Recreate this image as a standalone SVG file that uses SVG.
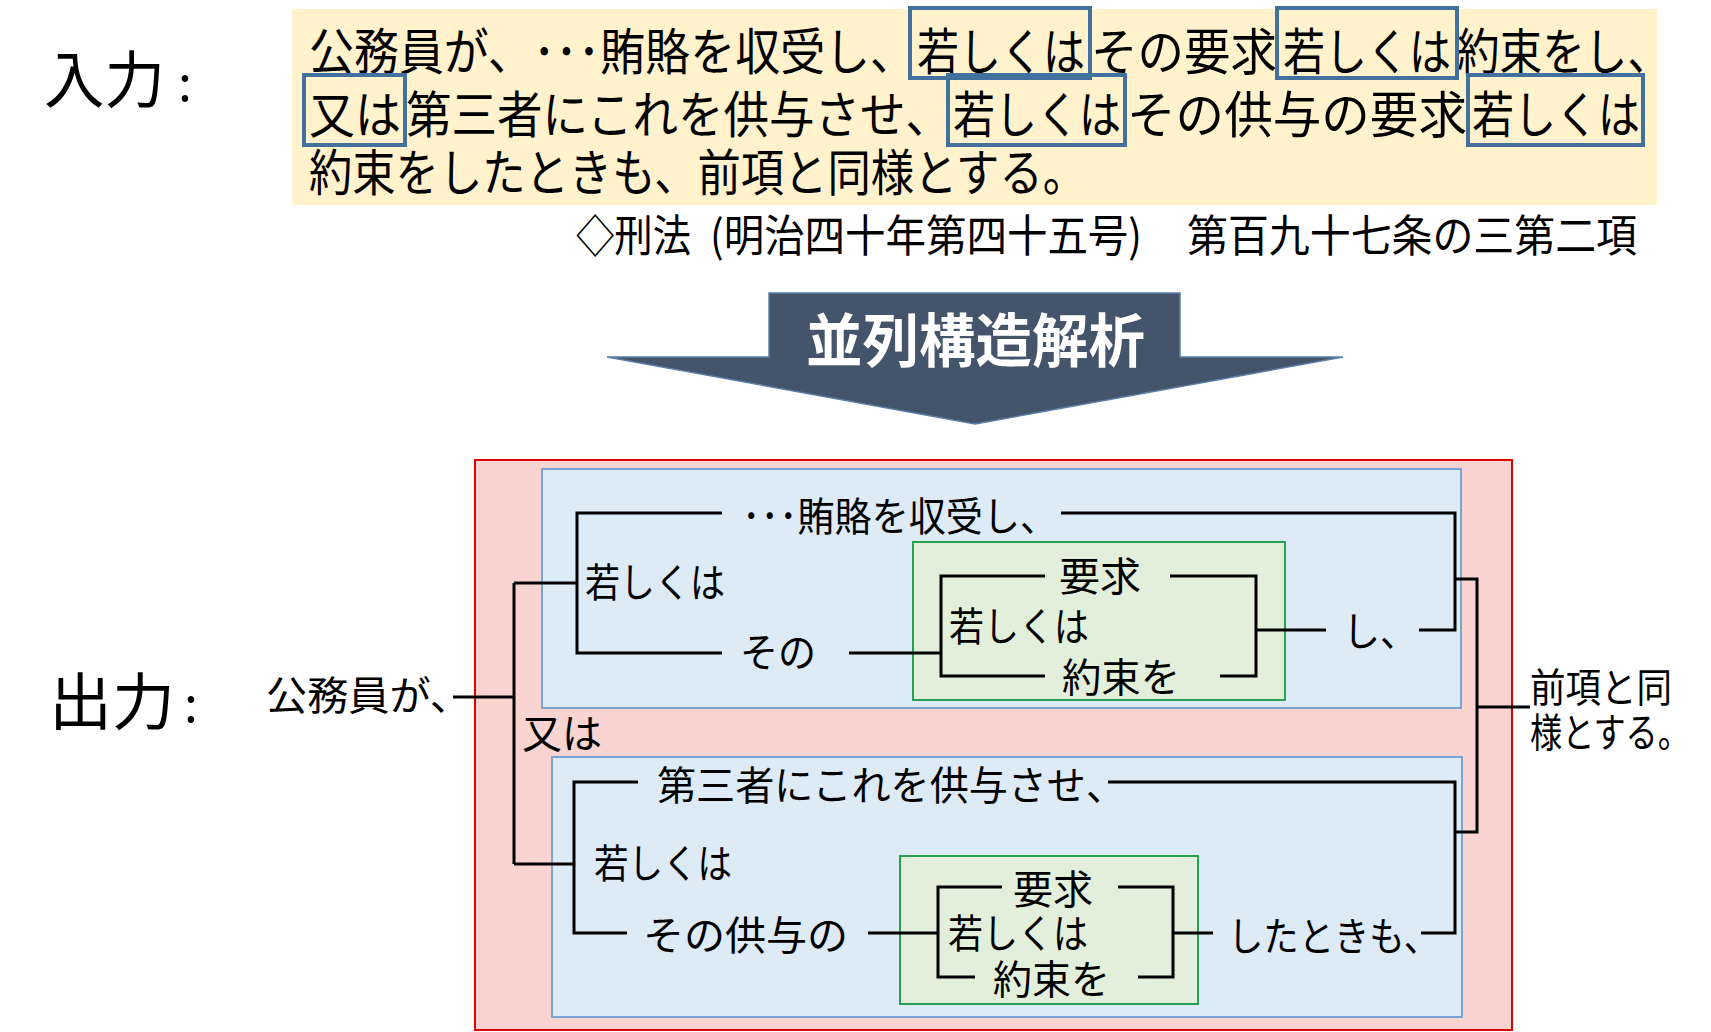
<svg xmlns="http://www.w3.org/2000/svg" width="1711" height="1032" viewBox="0 0 1711 1032">
<style>
  text { font-family: "Noto Sans CJK JP", "Noto Sans CJK SC", sans-serif; fill: #000; }
  .big { font-size: 62px; }
  .in { font-size: 50px; }
  .cite { font-size: 44px; }
  .d { font-size: 40px; }
  .ttl { font-size: 58px; font-weight: 700; fill: #fff; }
  .hl { fill: none; stroke: #41719C; stroke-width: 4; }
  .ln { fill: none; stroke: #000; stroke-width: 3; }
  .red { fill: #F9D4D1; stroke: #E00000; stroke-width: 2; }
  .blue { fill: #DDEBF7; stroke: #7BA3D4; stroke-width: 2; }
  .green { fill: #E2EFDA; stroke: #27A152; stroke-width: 2; }
</style>

<g id="label-input">
  <text class="big" x="44" y="103" textLength="121" lengthAdjust="spacingAndGlyphs">入力</text>
  <text class="in" x="178" y="101">:</text>
</g>

<g id="input-text">
  <rect x="292" y="9" width="1365" height="196" fill="#FFF2CC"/>
  <text class="in" x="309" y="70" textLength="606" lengthAdjust="spacingAndGlyphs">公務員が、･･･賄賂を収受し、</text>
  <text class="in" x="917" y="70" textLength="168" lengthAdjust="spacingAndGlyphs">若しくは</text>
  <text class="in" x="1091" y="70" textLength="186" lengthAdjust="spacingAndGlyphs">その要求</text>
  <text class="in" x="1283" y="70" textLength="168" lengthAdjust="spacingAndGlyphs">若しくは</text>
  <text class="in" x="1457" y="70" textLength="213" lengthAdjust="spacingAndGlyphs">約束をし、</text>
  <text class="in" x="309" y="133" textLength="92" lengthAdjust="spacingAndGlyphs">又は</text>
  <text class="in" x="406" y="133" textLength="545" lengthAdjust="spacingAndGlyphs">第三者にこれを供与させ、</text>
  <text class="in" x="953" y="133" textLength="168" lengthAdjust="spacingAndGlyphs">若しくは</text>
  <text class="in" x="1127" y="133" textLength="340" lengthAdjust="spacingAndGlyphs">その供与の要求</text>
  <text class="in" x="1472" y="133" textLength="168" lengthAdjust="spacingAndGlyphs">若しくは</text>
  <text class="in" x="309" y="191" textLength="777" lengthAdjust="spacingAndGlyphs">約束をしたときも、前項と同様とする。</text>
  <rect class="hl" x="910" y="8" width="180" height="70"/>
  <rect class="hl" x="1277" y="8" width="180" height="70"/>
  <rect class="hl" x="304" y="75" width="101" height="70"/>
  <rect class="hl" x="948" y="75" width="177" height="70"/>
  <rect class="hl" x="1468" y="75" width="175" height="70"/>
</g>

<g id="citation">
  <text class="cite" x="576" y="252" textLength="115" lengthAdjust="spacingAndGlyphs">◇刑法</text>
  <text class="cite" x="710" y="252" textLength="432" lengthAdjust="spacingAndGlyphs">(明治四十年第四十五号)</text>
  <text class="cite" x="1187" y="252" textLength="450" lengthAdjust="spacingAndGlyphs">第百九十七条の三第二項</text>
</g>

<g id="arrow">
  <polygon points="769,293 1180,293 1180,357 1343,357 975,424 607,357 769,357" fill="#44546A" stroke="#5B7DA8" stroke-width="1.5"/>
  <text class="ttl" x="806" y="362" textLength="339" lengthAdjust="spacingAndGlyphs">並列構造解析</text>
</g>

<g id="label-output">
  <text class="big" x="49" y="725" textLength="126" lengthAdjust="spacingAndGlyphs">出力</text>
  <text class="in" x="184" y="722">:</text>
</g>

<g id="output-frame">
  <rect class="red" x="475" y="460" width="1037" height="570"/>
</g>
<g id="block-upper">
  <rect class="blue" x="542" y="469" width="919" height="239"/>
</g>
<g id="block-lower">
  <rect class="blue" x="552" y="757" width="910" height="260"/>
</g>
<g id="group-upper">
  <rect class="green" x="913" y="542" width="372" height="158"/>
</g>
<g id="group-lower">
  <rect class="green" x="900" y="856" width="298" height="148"/>
</g>

<g id="connectors">
  <path class="ln" d="M453,697 H514"/>
  <path class="ln" d="M514,583 V864"/>
  <path class="ln" d="M514,583 H577"/>
  <path class="ln" d="M514,864 H574"/>
  <path class="ln" d="M722,513 H577 V653 H722"/>
  <path class="ln" d="M1061,513 H1455 V630 H1419"/>
  <path class="ln" d="M1455,579 H1477 V832 H1455"/>
  <path class="ln" d="M1477,707 H1530" stroke-width="4"/>
  <path class="ln" d="M1045,576 H941 V676 H1045"/>
  <path class="ln" d="M849,653 H941"/>
  <path class="ln" d="M1170,576 H1256 V676 H1220"/>
  <path class="ln" d="M1256,630 H1326"/>
  <path class="ln" d="M638,782 H574 V933 H627"/>
  <path class="ln" d="M1108,782 H1455 V933 H1421"/>
  <path class="ln" d="M1002,887 H938 V977 H975"/>
  <path class="ln" d="M868,933 H938"/>
  <path class="ln" d="M1118,887 H1173 V977 H1138"/>
  <path class="ln" d="M1173,933 H1213"/>
</g>

<g id="node-subject">
  <text class="d" x="266" y="710" textLength="205" lengthAdjust="spacingAndGlyphs">公務員が、</text>
</g>
<g id="node-upper">
  <text class="d" x="585" y="597" textLength="140" lengthAdjust="spacingAndGlyphs">若しくは</text>
  <text class="d" x="742" y="531" textLength="315" lengthAdjust="spacingAndGlyphs">･･･賄賂を収受し、</text>
  <text class="d" x="740" y="667" textLength="76" lengthAdjust="spacingAndGlyphs">その</text>
  <text class="d" x="1059" y="591" textLength="82" lengthAdjust="spacingAndGlyphs">要求</text>
  <text class="d" x="949" y="641" textLength="140" lengthAdjust="spacingAndGlyphs">若しくは</text>
  <text class="d" x="1062" y="692" textLength="118" lengthAdjust="spacingAndGlyphs">約束を</text>
  <text class="d" x="1343" y="646" textLength="74" lengthAdjust="spacingAndGlyphs">し、</text>
</g>
<g id="node-or">
  <text class="d" x="522" y="748" textLength="80" lengthAdjust="spacingAndGlyphs">又は</text>
</g>
<g id="node-lower">
  <text class="d" x="657" y="800" textLength="468" lengthAdjust="spacingAndGlyphs">第三者にこれを供与させ、</text>
  <text class="d" x="594" y="878" textLength="138" lengthAdjust="spacingAndGlyphs">若しくは</text>
  <text class="d" x="643" y="950" textLength="205" lengthAdjust="spacingAndGlyphs">その供与の</text>
  <text class="d" x="1013" y="904" textLength="80" lengthAdjust="spacingAndGlyphs">要求</text>
  <text class="d" x="948" y="948" textLength="140" lengthAdjust="spacingAndGlyphs">若しくは</text>
  <text class="d" x="993" y="994" textLength="117" lengthAdjust="spacingAndGlyphs">約束を</text>
  <text class="d" x="1228" y="951" textLength="211" lengthAdjust="spacingAndGlyphs">したときも、</text>
</g>
<g id="node-result">
  <text class="d" x="1530" y="702" textLength="142" lengthAdjust="spacingAndGlyphs">前項と同</text>
  <text class="d" x="1530" y="747" textLength="160" lengthAdjust="spacingAndGlyphs">様とする。</text>
</g>
</svg>
